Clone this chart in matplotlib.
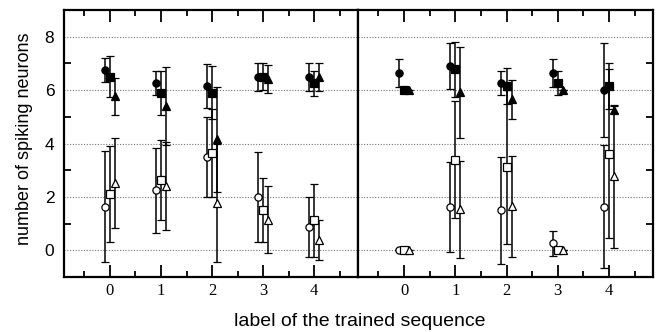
import matplotlib
matplotlib.use("Agg")
import matplotlib.pyplot as plt
import numpy as np

labels = [0, 1, 2, 3, 4]
x_ticklabels = ["0", "1", "2", "3", "4"]

# Left panel
L_fc = [6.75, 6.27, 6.15, 6.5, 6.5];   L_fc_err = [0.45, 0.45, 0.83, 0.52, 0.52]
L_fs = [6.5, 5.9, 5.9, 6.5, 6.25];     L_fs_err = [0.77, 0.83, 1.0, 0.5, 0.46]
L_ft = [5.77, 5.4, 4.15, 6.41, 6.5];   L_ft_err = [0.7, 1.45, 1.95, 0.52, 0.52]
L_oc = [1.63, 2.25, 3.5, 2.0, 0.88];   L_oc_err = [2.08, 1.6, 1.5, 1.7, 1.12]
L_os = [2.12, 2.62, 3.65, 1.5, 1.12];  L_os_err = [1.8, 1.5, 1.65, 1.2, 1.37]
L_ot = [2.52, 2.4, 1.78, 1.15, 0.38];  L_ot_err = [1.7, 1.65, 2.22, 1.25, 0.75]

# Right panel
R_fc = [6.65, 6.9, 6.27, 6.65, 6.0];   R_fc_err = [0.52, 0.85, 0.46, 0.52, 1.77]
R_fs = [6.02, 6.78, 6.15, 6.27, 6.15]; R_fs_err = [0.0, 1.03, 0.66, 0.46, 0.85]
R_ft = [6.02, 5.92, 5.65, 6.02, 5.27]; R_ft_err = [0.0, 1.7, 0.74, 0.0, 0.12]
R_oc = [0.0, 1.63, 1.5, 0.27, 1.63];   R_oc_err = [0.0, 1.68, 2.0, 0.47, 2.3]
R_os = [0.0, 3.4, 3.12, 0.02, 3.62];   R_os_err = [0.0, 2.2, 2.9, 0.0, 3.16]
R_ot = [0.0, 1.53, 1.65, 0.0, 2.78];   R_ot_err = [0.0, 1.8, 1.9, 0.0, 2.68]

fig = plt.figure(figsize=(6.57, 3.32), dpi=100)
axL = fig.add_axes([64/657, 1-277/332, 294/657, 267/332])
axR = fig.add_axes([358/657, 1-277/332, 295/657, 267/332])

serif = "Liberation Serif"
sans = "Liberation Sans"

def draw(ax, series):
    x = np.array(labels, dtype=float)
    for mean, err, off, marker, filled in series:
        ax.errorbar(x + off, mean, yerr=err, fmt=marker, ms=5.2 if marker != "^" else 5.6,
                    mfc="black" if filled else "white", mec="black", mew=0.9,
                    ecolor="black", elinewidth=1.1, capsize=3.2, capthick=1.1, zorder=3)
    ax.set_xlim(-0.9, 4.86)
    ax.set_ylim(-1.0, 9.0)
    for g in [0, 2, 4, 6, 8]:
        ax.axhline(g, color="#777777", lw=0.8, ls=(0, (1, 1.5)), zorder=1)
    ax.set_xticks(labels)
    ax.set_xticks(np.arange(-0.5, 4.6, 1.0), minor=True)
    ax.set_xticklabels(x_ticklabels, fontfamily=serif, fontsize=12)
    ax.set_yticks([0, 2, 4, 6, 8])
    ax.set_yticks([1, 3, 5, 7], minor=True)
    ax.tick_params(axis="x", which="major", direction="in", length=8.5, width=1.3,
                   top=True, bottom=True, pad=4)
    ax.tick_params(axis="x", which="minor", direction="in", length=4, width=1.3,
                   top=True, bottom=True)
    for s in ax.spines.values():
        s.set_linewidth(1.6)

draw(axL, [(L_fc, L_fc_err, -0.1, "o", True), (L_fs, L_fs_err, 0.0, "s", True),
           (L_ft, L_ft_err, 0.1, "^", True), (L_oc, L_oc_err, -0.1, "o", False),
           (L_os, L_os_err, 0.0, "s", False), (L_ot, L_ot_err, 0.1, "^", False)])
draw(axR, [(R_fc, R_fc_err, -0.1, "o", True), (R_fs, R_fs_err, 0.0, "s", True),
           (R_ft, R_ft_err, 0.1, "^", True), (R_oc, R_oc_err, -0.1, "o", False),
           (R_os, R_os_err, 0.0, "s", False), (R_ot, R_ot_err, 0.1, "^", False)])

axL.tick_params(axis="y", which="major", direction="in", length=0, left=True, right=False,
                labelsize=12.5, pad=7)
axL.tick_params(axis="y", which="minor", direction="in", length=5, width=1.3, left=True, right=False)
for t in axL.get_yticklabels():
    t.set_fontfamily(sans)
axR.tick_params(axis="y", which="major", direction="in", length=0, left=False, right=False,
                labelleft=False)
axR.tick_params(axis="y", which="minor", direction="in", length=5, width=1.3, left=False, right=True)

fig.text(25/657, 1-139/332, "number of spiking neurons", rotation=90,
         ha="center", va="center", fontsize=13, fontfamily=sans)
fig.text(360/657, 1-321/332, "label of the trained sequence", ha="center", va="center",
         fontsize=14, fontfamily=sans)

fig.savefig("out.png", dpi=100)
